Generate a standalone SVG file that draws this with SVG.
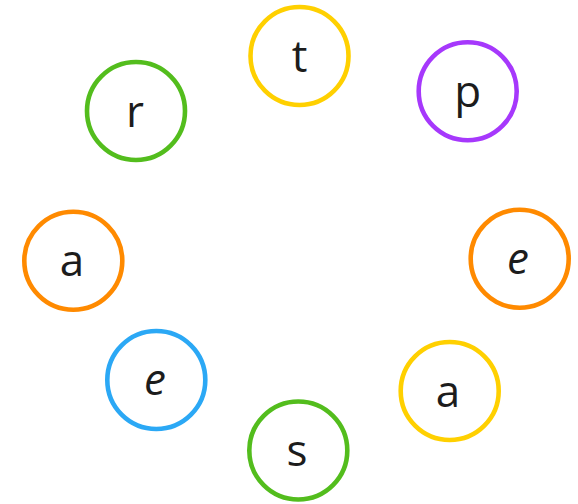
<svg xmlns="http://www.w3.org/2000/svg" width="578" height="504" viewBox="0 0 578 504">
<style>
.n circle{fill:#fff;stroke-width:4.6}
.n text{font-family:"Open Sans","Noto Sans",sans-serif;font-size:44px;fill:#1c1c1c;text-anchor:middle}
.it{font-style:italic}
.yellow{stroke:#ffd000}
.purple{stroke:#a638fc}
.green{stroke:#53bd1d}
.orange{stroke:#ff8a00}
.blue{stroke:#2ba8f5}
</style>
<rect width="578" height="504" fill="#fff"/>
<g id="connectors"></g>
<g id="node-t" class="n"><circle class="yellow" cx="299.5" cy="56" r="49"/><text x="299.5" y="72">t</text></g>
<g id="node-p" class="n"><circle class="purple" cx="467.7" cy="91.3" r="49"/><text x="467.7" y="107">p</text></g>
<g id="node-r" class="n"><circle class="green" cx="136" cy="111" r="49"/><text x="135" y="127">r</text></g>
<g id="node-a1" class="n"><circle class="orange" cx="73.3" cy="260.7" r="49"/><text x="72" y="276">a</text></g>
<g id="node-e1" class="n"><circle class="orange" cx="519.7" cy="258.7" r="49"/><text class="it" x="518" y="274">e</text></g>
<g id="node-e2" class="n"><circle class="blue" cx="156.3" cy="380" r="49"/><text class="it" x="155" y="395">e</text></g>
<g id="node-a2" class="n"><circle class="yellow" cx="449.7" cy="391" r="49"/><text x="448" y="407">a</text></g>
<g id="node-s" class="n"><circle class="green" cx="298.3" cy="450.5" r="49"/><text x="297" y="466">s</text></g>
</svg>
